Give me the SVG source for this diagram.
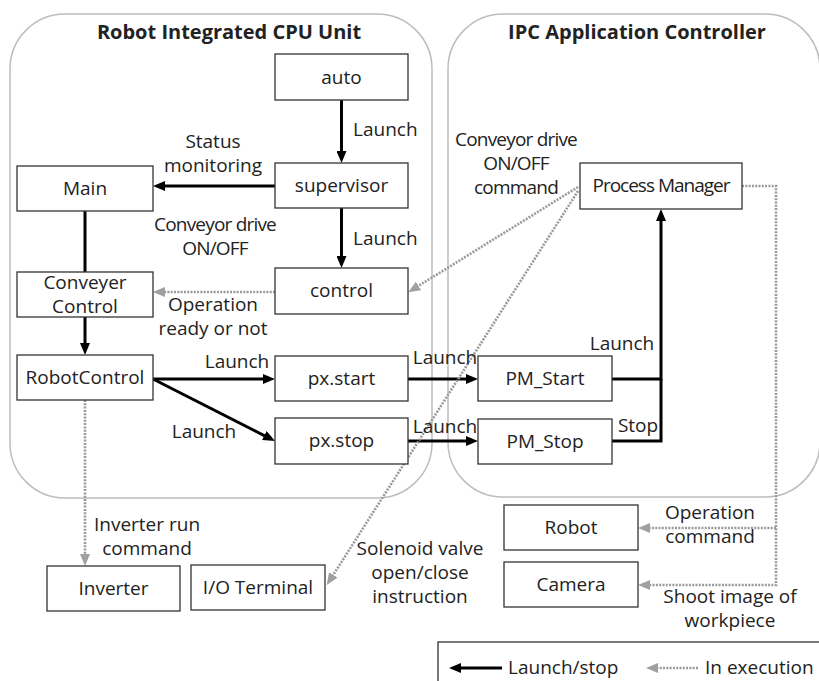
<svg xmlns="http://www.w3.org/2000/svg" width="819" height="681" viewBox="0 0 819 681">
<defs>
<style>
text{font-family:"Open Sans","Noto Sans","Liberation Sans",sans-serif;font-size:19px;fill:#222}
.t{font-weight:bold;font-size:20px;fill:#222}
.c{text-anchor:middle}
.n{letter-spacing:-0.8px}
.box{fill:#fff;stroke:#333;stroke-width:1.3}
.cont{fill:none;stroke:#bdbdbd;stroke-width:1.5}
.k{fill:none;stroke:#000;stroke-width:3}
.g{fill:none;stroke:#9a9a9a;stroke-width:2.6;stroke-dasharray:2 1.3}
</style>
<marker id="ak" viewBox="0 0 12 10" refX="6" refY="5" markerWidth="12" markerHeight="10" markerUnits="userSpaceOnUse" orient="auto"><path d="M0,0 L12,5 L0,10 z" fill="#000"/></marker>
<marker id="ag" viewBox="0 0 12 10" refX="6" refY="5" markerWidth="12" markerHeight="10" markerUnits="userSpaceOnUse" orient="auto"><path d="M0,0 L12,5 L0,10 z" fill="#a0a0a0"/></marker>
</defs>
<rect width="819" height="681" fill="#fff"/>
<g id="containers">
<rect class="cont" x="10" y="14" width="422" height="484" rx="55"/>
<rect class="cont" x="448" y="14" width="372" height="483" rx="55"/>
<text class="t c" x="229" y="39">Robot Integrated CPU Unit</text>
<text class="t c" x="637" y="39">IPC Application Controller</text>
</g>
<g id="connectors">
<line class="k" x1="341.5" y1="100" x2="341.5" y2="157" marker-end="url(#ak)"/>
<line class="k" x1="275" y1="186" x2="159" y2="186" marker-end="url(#ak)"/>
<line class="k" x1="341.5" y1="208" x2="341.5" y2="262" marker-end="url(#ak)"/>
<line class="k" x1="85" y1="211" x2="85" y2="272"/>
<line class="k" x1="85" y1="317" x2="85" y2="349" marker-end="url(#ak)"/>
<line class="g" x1="275" y1="292" x2="159" y2="292" marker-end="url(#ag)"/>
<line class="k" x1="153" y1="379" x2="269" y2="379" marker-end="url(#ak)"/>
<line class="k" x1="153" y1="379" x2="269.7" y2="438.3" marker-end="url(#ak)"/>
<line class="k" x1="408" y1="379" x2="472" y2="379" marker-end="url(#ak)"/>
<line class="k" x1="408" y1="441" x2="472" y2="441" marker-end="url(#ak)"/>
<polyline class="k" points="612,379 661,379 661,215" marker-end="url(#ak)"/>
<polyline class="k" points="612,441 661,441 661,379"/>
<line class="g" x1="578" y1="187" x2="413.4" y2="289.1" marker-end="url(#ag)"/>
<line class="g" x1="578" y1="191" x2="330" y2="580" marker-end="url(#ag)"/>
<polyline class="g" points="742,186 776,186 776,585 644,585" marker-end="url(#ag)"/>
<polyline class="g" points="776,528 644,528" marker-end="url(#ag)"/>
<line class="g" x1="85" y1="400" x2="85" y2="560" marker-end="url(#ag)"/>
</g>
<g id="labels">
<text x="353" y="136">Launch</text>
<text x="353" y="245">Launch</text>
<text class="c" x="213" y="148">Status</text>
<text class="c" x="213" y="172">monitoring</text>
<text class="c n" x="215" y="231">Conveyor drive</text>
<text class="c n" x="215" y="255">ON/OFF</text>
<text class="c" x="213" y="311">Operation</text>
<text class="c" x="213" y="335">ready or not</text>
<text class="c" x="237" y="368">Launch</text>
<text class="c" x="204" y="438">Launch</text>
<text class="c" x="445" y="364">Launch</text>
<text class="c" x="445" y="433">Launch</text>
<text class="c" x="622" y="350">Launch</text>
<text class="c" x="638" y="432">Stop</text>
<text class="c n" x="516" y="146">Conveyor drive</text>
<text class="c n" x="516" y="170">ON/OFF</text>
<text class="c n" x="516" y="194">command</text>
<text class="c" x="147" y="531">Inverter run</text>
<text class="c" x="147" y="555">command</text>
<text class="c" x="420" y="555">Solenoid valve</text>
<text class="c" x="420" y="579">open/close</text>
<text class="c" x="420" y="603">instruction</text>
<text class="c" x="710" y="519">Operation</text>
<text class="c" x="710" y="543">command</text>
<text class="c" x="730" y="603">Shoot image of</text>
<text class="c" x="730" y="627">workpiece</text>
</g>
<g id="auto"><rect class="box" x="275" y="54" width="133" height="46"/><text class="c" x="341.5" y="84">auto</text></g>
<g id="supervisor"><rect class="box" x="275" y="163" width="133" height="45"/><text class="c" x="341.5" y="192">supervisor</text></g>
<g id="main"><rect class="box" x="17" y="166" width="136" height="45"/><text class="c" x="85" y="195">Main</text></g>
<g id="conveyer-control"><rect class="box" x="17" y="272" width="136" height="45"/><text class="c" x="85" y="289">Conveyer</text><text class="c" x="85" y="313">Control</text></g>
<g id="control"><rect class="box" x="275" y="268" width="133" height="46"/><text class="c" x="341.5" y="297">control</text></g>
<g id="robotcontrol"><rect class="box" x="17" y="355" width="136" height="45"/><text class="c" x="85" y="384">RobotControl</text></g>
<g id="px-start"><rect class="box" x="275" y="356" width="133" height="45"/><text class="c" x="341.5" y="385">px.start</text></g>
<g id="px-stop"><rect class="box" x="275" y="418" width="133" height="46"/><text class="c" x="341.5" y="447">px.stop</text></g>
<g id="pm-start"><rect class="box" x="478" y="356" width="134" height="45"/><text class="c" x="545" y="385">PM_Start</text></g>
<g id="pm-stop"><rect class="box" x="478" y="419" width="134" height="45"/><text class="c" x="545" y="448">PM_Stop</text></g>
<g id="process-manager"><rect class="box" x="580" y="163" width="162" height="46"/><text class="c" x="661" y="192" style="letter-spacing:-1px">Process Manager</text></g>
<g id="inverter"><rect class="box" x="47" y="566" width="133" height="45"/><text class="c" x="113.5" y="595">Inverter</text></g>
<g id="io-terminal"><rect class="box" x="191" y="565" width="134" height="45"/><text class="c" x="258" y="594">I/O Terminal</text></g>
<g id="robot"><rect class="box" x="504" y="505" width="134" height="45"/><text class="c" x="571" y="534">Robot</text></g>
<g id="camera"><rect class="box" x="504" y="562" width="134" height="45"/><text class="c" x="571" y="591">Camera</text></g>
<g id="legend">
<rect class="box" x="438" y="642" width="400" height="60"/>
<line class="k" x1="502" y1="668" x2="455" y2="668" marker-end="url(#ak)"/>
<text x="508" y="674">Launch/stop</text>
<line class="g" x1="698" y1="668" x2="652" y2="668" marker-end="url(#ag)"/>
<text x="705" y="674">In execution</text>
</g>
</svg>
